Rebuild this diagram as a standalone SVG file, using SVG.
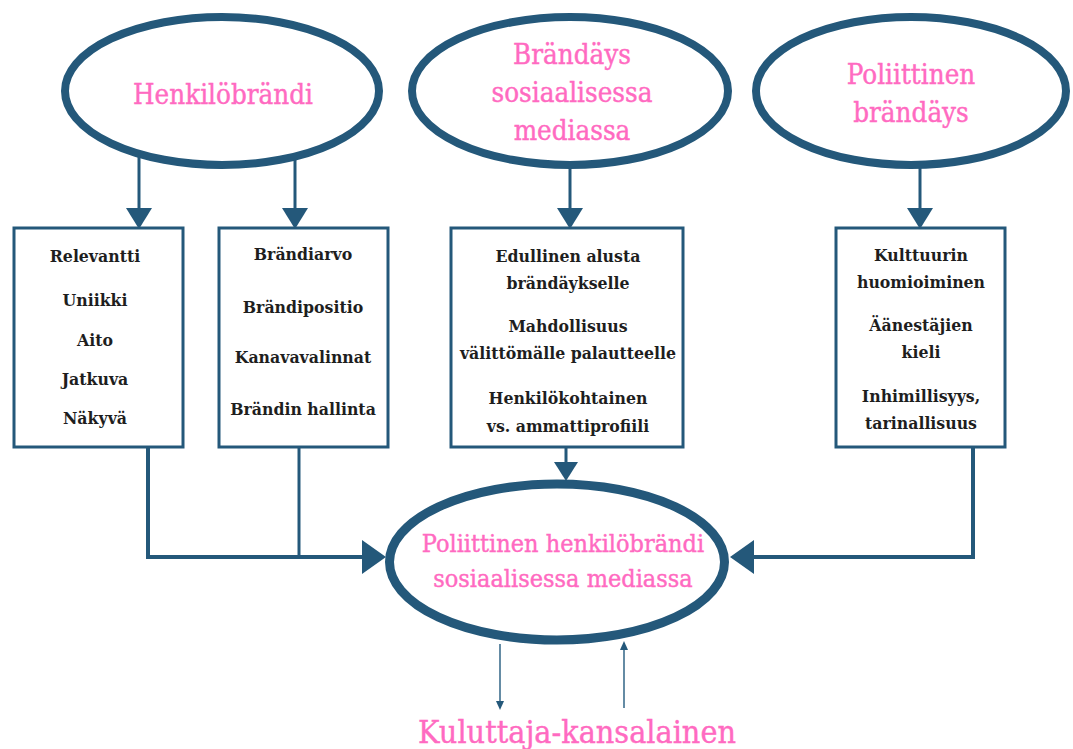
<svg xmlns="http://www.w3.org/2000/svg" width="1073" height="749" viewBox="0 0 1073 749">
<style>
.ell{fill:#fff;stroke:#24587a;stroke-width:8}
.box{fill:#fff;stroke:#24587a;stroke-width:3}
.ln{fill:none;stroke:#24587a;stroke-width:3}
.thin{fill:none;stroke:#3e6f8e;stroke-width:1.6}
.hd{fill:#24587a}
.pk{font-family:"DejaVu Serif Condensed","DejaVu Serif",serif;fill:#ff6ac1;stroke:#ff6ac1;stroke-width:0.4;font-size:27.5px;text-anchor:middle}
.bk{font-family:"DejaVu Serif Condensed","DejaVu Serif",serif;fill:#1e1e1e;font-weight:bold;font-size:17.5px;text-anchor:middle}
</style>
<rect width="1073" height="749" fill="#fff"/>
<g id="henkilobrandi">
<ellipse class="ell" cx="222" cy="91" rx="157" ry="74"/>
<text class="pk" x="223" y="104">Henkilöbrändi</text>
</g>
<g id="brandays-some">
<ellipse class="ell" cx="570" cy="91" rx="158" ry="74"/>
<text class="pk" x="572" y="64">Brändäys</text>
<text class="pk" x="572" y="102">sosiaalisessa</text>
<text class="pk" x="572" y="140">mediassa</text>
</g>
<g id="poliittinen-brandays">
<ellipse class="ell" cx="911" cy="91" rx="155" ry="74"/>
<text class="pk" x="911" y="84">Poliittinen</text>
<text class="pk" x="911" y="122">brändäys</text>
</g>
<g id="box1">
<rect class="box" x="14" y="228" width="169" height="219"/>
<text class="bk" x="95" y="262">Relevantti</text>
<text class="bk" x="95" y="306">Uniikki</text>
<text class="bk" x="95" y="346">Aito</text>
<text class="bk" x="95" y="385">Jatkuva</text>
<text class="bk" x="95" y="424">Näkyvä</text>
</g>
<g id="box2">
<rect class="box" x="219" y="228" width="169" height="219"/>
<text class="bk" x="303" y="260">Brändiarvo</text>
<text class="bk" x="303" y="313">Brändipositio</text>
<text class="bk" x="303" y="363">Kanavavalinnat</text>
<text class="bk" x="303" y="415">Brändin hallinta</text>
</g>
<g id="box3">
<rect class="box" x="451" y="228" width="232" height="219"/>
<text class="bk" x="568" y="262">Edullinen alusta</text>
<text class="bk" x="568" y="289">brändäykselle</text>
<text class="bk" x="568" y="332">Mahdollisuus</text>
<text class="bk" x="568" y="359">välittömälle palautteelle</text>
<text class="bk" x="568" y="404">Henkilökohtainen</text>
<text class="bk" x="568" y="432">vs. ammattiprofiili</text>
</g>
<g id="box4">
<rect class="box" x="836" y="228" width="169" height="219"/>
<text class="bk" x="921" y="261">Kulttuurin</text>
<text class="bk" x="921" y="288">huomioiminen</text>
<text class="bk" x="921" y="331">Äänestäjien</text>
<text class="bk" x="921" y="358">kieli</text>
<text class="bk" x="921" y="402">Inhimillisyys,</text>
<text class="bk" x="921" y="429">tarinallisuus</text>
</g>
<g id="center">
<ellipse class="ell" cx="557" cy="562" rx="167.5" ry="78" style="stroke-width:9"/>
<text class="pk" x="563" y="552" style="font-size:25px">Poliittinen henkilöbrändi</text>
<text class="pk" x="563" y="587" style="font-size:25px">sosiaalisessa mediassa</text>
</g>
<g id="kuluttaja">
<text class="pk" x="577" y="743" style="font-size:32px">Kuluttaja-kansalainen</text>
</g>
<g id="connectors">
<line class="ln" x1="139" y1="154" x2="139" y2="210"/>
<polygon class="hd" points="126,208 152,208 139,229"/>
<line class="ln" x1="295" y1="155" x2="295" y2="210"/>
<polygon class="hd" points="282,208 308,208 295,229"/>
<line class="ln" x1="570" y1="164" x2="570" y2="210"/>
<polygon class="hd" points="557,208 583,208 570,229"/>
<line class="ln" x1="920" y1="164" x2="920" y2="210"/>
<polygon class="hd" points="907,208 933,208 920,229"/>
<line class="ln" x1="566" y1="447" x2="566" y2="464"/>
<polygon class="hd" points="554,462 578,462 566,481"/>
<polyline class="ln" points="148,447 148,557 364,557" style="stroke-width:4"/>
<line class="ln" x1="299" y1="447" x2="299" y2="557"/>
<polygon class="hd" points="362,540 362,574 386,557"/>
<polyline class="ln" points="973,447 973,557 752,557" style="stroke-width:4"/>
<polygon class="hd" points="754,540 754,574 730,557"/>
<line class="thin" x1="500" y1="644" x2="500" y2="703"/>
<polygon class="hd" points="496,701 504,701 500,710"/>
<line class="thin" x1="624" y1="708" x2="624" y2="648"/>
<polygon class="hd" points="620,650 628,650 624,641"/>
</g>
</svg>
